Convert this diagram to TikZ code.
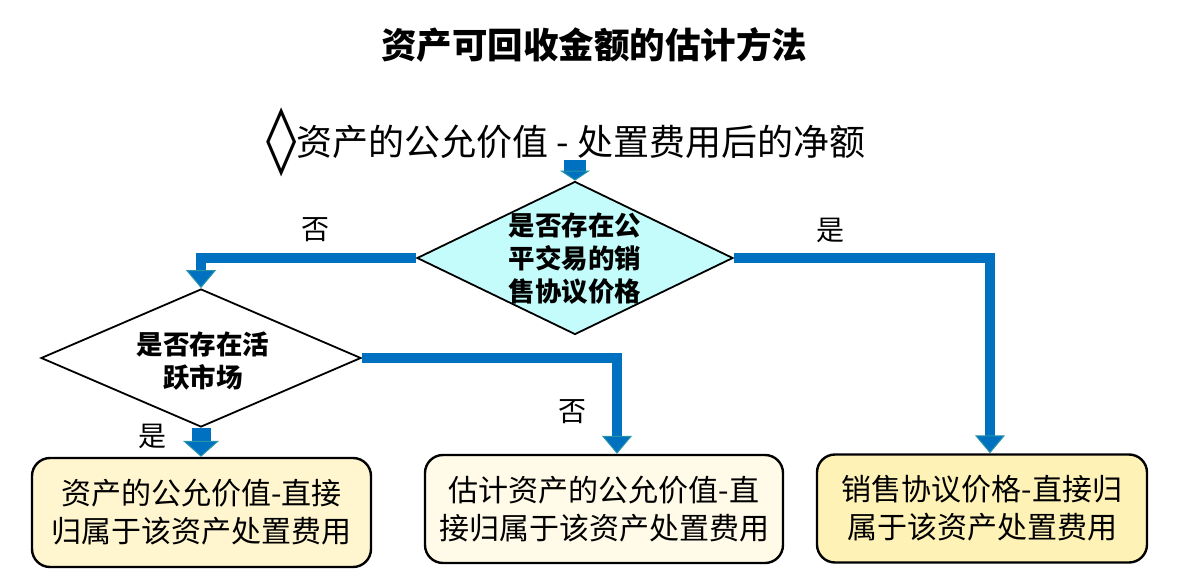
\documentclass[tikz,border=0pt]{standalone}
\usepackage{fontspec}
\setmainfont{Noto Sans CJK SC}
\newfontfamily\symfont{DejaVu Sans}
\usetikzlibrary{shapes.geometric,arrows.meta}
\definecolor{flowblue}{HTML}{0070C0}
\definecolor{tipedge}{HTML}{2894A8}
\definecolor{decfill}{HTML}{C4FCFC}
\definecolor{boxa}{HTML}{FFF6CF}
\definecolor{boxb}{HTML}{FFFBE8}
\definecolor{boxc}{HTML}{FFF2B6}
\begin{document}
\begin{tikzpicture}[x=1pt,y=-1pt,
    decision/.style={draw,diamond,line width=1.8pt,inner sep=0pt},
    dectext/.style={font=\fontsize{26.5}{33}\selectfont\bfseries,align=center},
    result/.style={draw,rounded corners=18pt,line width=2.4pt,align=center,inner sep=0pt,font=\fontsize{30}{38}\selectfont},
    answer/.style={font=\fontsize{28}{28}\selectfont},
    flow/.style={draw=flowblue,line width=10pt,line join=miter,-{Triangle[width=30pt,length=18pt,line width=1pt,fill=flowblue,color=tipedge]}},
    stub/.style={draw=flowblue,line width=19pt,-{Triangle[width=36pt,length=16pt,line width=1pt,fill=flowblue,color=tipedge]}}]
    \useasboundingbox (0,0) rectangle (1185,588);
    \node[font=\fontsize{35.5}{35.5}\selectfont\bfseries] (title) at (594,45) {资产可回收金额的估计方法};
    \node[font=\fontsize{36}{36}\selectfont] (base) at (566,142) {\raisebox{-6pt}{\symfont\scalebox{1.7}[1.85]{◊}}资产的公允价值 - 处置费用后的净额};
    \node[decision,fill=decfill,minimum width=316pt,minimum height=153pt] (d1) at (575,258) {};
    \node[dectext] (d1txt) at (575,259) {是否存在公\\平交易的销\\售协议价格};
    \node[decision,fill=white,minimum width=320pt,minimum height=138pt] (d2) at (201,358) {};
    \node[dectext] (d2txt) at (203,361) {是否存在活\\跃市场};
    \node[result,fill=boxa,minimum width=339pt,minimum height=109pt] (b1) at (201.5,512.5) {资产的公允价值-直接\\归属于该资产处置费用};
    \node[result,fill=boxb,minimum width=358pt,minimum height=108pt] (b2) at (604,509) {估计资产的公允价值-直\\接归属于该资产处置费用};
    \node[result,fill=boxc,minimum width=330pt,minimum height=108pt] (b3) at (982,508.5) {销售协议价格-直接归\\属于该资产处置费用};
    \coordinate (top) at (575,160);
    \draw[stub,line width=22pt,-{Triangle[width=30pt,length=10pt,line width=1pt,fill=flowblue,color=tipedge]}] (top) -- (d1.north);
    \draw[flow] (d1.west) -| (d2.north);
    \draw[flow] (d1.east) -| ([xshift=8pt]b3.north);
    \draw[flow] (d2.east) -| ([xshift=13pt]b2.north);
    \draw[stub] (d2.south) -- (d2.south |- b1.north);
    \node[answer] at (315,230) {否};
    \node[answer] at (830,230) {是};
    \node[answer] at (152,436) {是};
    \node[answer] at (572,412) {否};
\end{tikzpicture}
\end{document}
